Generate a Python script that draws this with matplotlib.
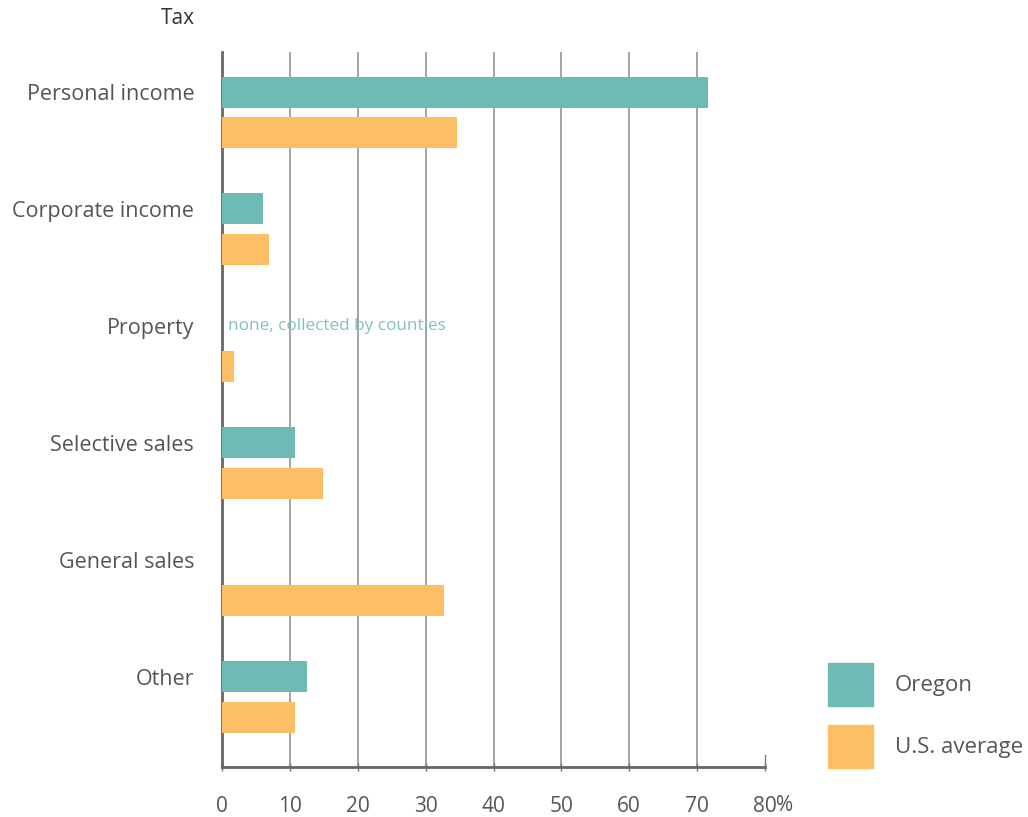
import numpy as np
import matplotlib.pyplot as plt
from matplotlib.patches import Rectangle

plt.rcParams['font.family'] = ['Open Sans', 'DejaVu Sans']

categories = ["Personal income", "Corporate income", "Property",
              "Selective sales", "General sales", "Other"]
oregon = [71.6, 6.0, 0.0, 10.7, 0.0, 12.5]
us_avg = [34.6, 6.9, 1.8, 14.9, 32.7, 10.7]
xticks = [0, 10, 20, 30, 40, 50, 60, 70, 80]

teal = "#6fbab5"
orange = "#fdbf66"
grey = "#555555"

fig = plt.figure(figsize=(10.28, 8.17), dpi=100)
ax = fig.add_axes([222/1028, 1 - 767/817, (765-222)/1028, (767-52)/817])

y = np.arange(len(categories))
h = 0.265
ax.barh(y, oregon, height=h, color=teal, zorder=3)
ax.barh(y + 0.35, us_avg, height=h, color=orange, zorder=3)

ax.set_xlim(0, 80)
ax.set_ylim(5.77, -0.342)

for v in xticks[1:-1]:
    ax.axvline(v, color="#8a8a8a", lw=1.1, zorder=1)

ax.set_xticks(xticks)
ax.set_xticklabels([str(v) for v in xticks])
ax.tick_params(axis='x', length=6, width=1, color="#777777", pad=18,
               labelsize=15, labelcolor=grey, direction='inout')
ax.annotate("%", xy=(80, 0), xycoords=('data', 'axes fraction'),
            xytext=(8, -20.2), textcoords='offset points',
            fontsize=15, color=grey, ha='left', va='top')
ax.plot([80, 80], [5.77 - 0.1, 5.77], color="#777777", lw=1, clip_on=False)

ax.set_yticks(y)
ax.set_yticklabels(categories)
ax.tick_params(axis='y', length=0, pad=20, labelsize=15.5, labelcolor=grey)

for s in ["top", "right"]:
    ax.spines[s].set_visible(False)
ax.spines["left"].set_color("#666666")
ax.spines["left"].set_linewidth(2)
ax.spines["bottom"].set_color("#666666")
ax.spines["bottom"].set_linewidth(2)

fig.text(195/1028, 1 - 18/817, "Tax", fontsize=15, color="#333333",
         ha='right', va='center')

ax.text(0.9, 2, "none, collected by counties", fontsize=12.3,
        color="#7cc3be", ha='left', va='center', zorder=4)

# legend
fig.patches.append(Rectangle((828/1028, 1 - 706/817), 45/1028, 43/817,
                             transform=fig.transFigure, color=teal))
fig.patches.append(Rectangle((828/1028, 1 - 768/817), 45/1028, 43/817,
                             transform=fig.transFigure, color=orange))
fig.text(895/1028, 1 - 685/817, "Oregon", fontsize=16, color=grey,
         ha='left', va='center')
fig.text(895/1028, 1 - 747/817, "U.S. average", fontsize=16, color=grey,
         ha='left', va='center')

fig.savefig("out.png", dpi=100)
